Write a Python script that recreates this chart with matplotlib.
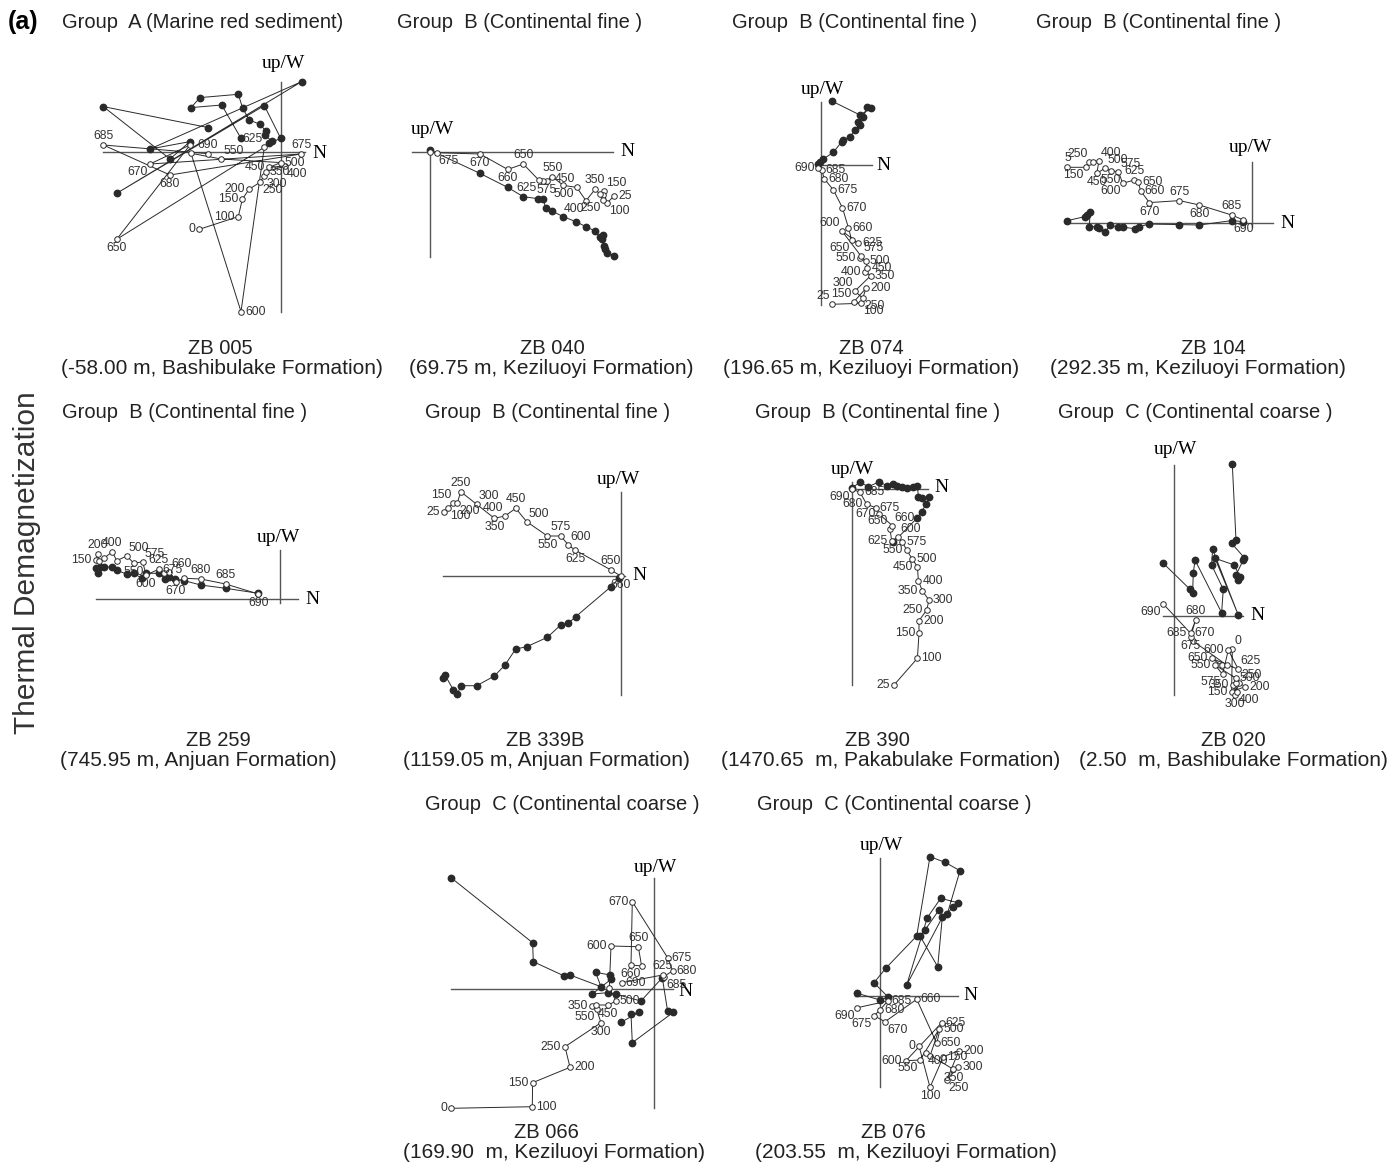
import numpy as np
import matplotlib
matplotlib.use('Agg')
import matplotlib.pyplot as plt

plt.rcParams['font.family'] = ['Liberation Sans', 'DejaVu Sans']

# ---- demagnetization steps, vertical projection (open) and horizontal projection (closed)
# components are (N, up/W) in plot units, origin = axis crossing

zb005_steps = ['0', '100', '150', '200', '250', '300', '350', '400', '450', '500', '550', '',
               '600', '625', '650', '', '670', '675', '680', '685', '690']
zb005_vert = [(-81.7, -77), (-42.7, -64.3), (-38.7, -47), (-32, -37), (-21, -30), (-16.7, -23.3),
              (-15.3, -19.3), (4, -14), (-11.7, -15), (-0.3, -10.3), (-59.7, -6.7), (-90, -1),
              (-40, -159.3), (-16.7, 5), (-164.3, -87), (-91, 7.3), (-131, -11.7), (20, -1.7),
              (-111, -22.7), (-177.7, 7.3), (-73.3, -1.3)]
zb005_horz = [(-40, 14), (-59.3, 47.3), (-90, 44.7), (-81, 54.7), (-42.7, 58), (-38.3, 44),
              (-31.7, 32.3), (-21, 28), (-15.3, 21.3), (-16, 17.3), (-9.3, 11.3), (-11.7, 9),
              (-0.3, 14), (-16.7, 46.7), (-164.3, -41), (20.7, 70.7), (-131, 3.3), (-91, 10.7),
              (-111, -6.7), (-177.7, 45.7), (-72.7, 24.7)]
zb005_side = 'l l l l br br r br l r ar - r al b - bl a b a a'.split()

zb040_steps = ['25', '100', '150', '200', '250', '300', '350', '400', '450', '500', '550', '575',
               '600', '625', '650', '660', '670', '675', '690']
zb040_vert = [(184.3, -44), (176.7, -51.7), (174, -39), (172.7, -43.3), (173.3, -48.3), (170, -42.3),
              (165, -37.7), (156, -49), (146.7, -35.7), (133.3, -33.7), (122.3, -25), (116.7, -29),
              (113.3, -29), (108.7, -28.3), (93.3, -12.3), (77.7, -17.7), (50, -2.3), (6.7, -1), (0, 0)]
zb040_horz = [(0, 1.7), (50, -21.7), (77.7, -35.7), (93.3, -45), (108.3, -47), (113.3, -47.3),
              (115.7, -56.7), (121.7, -59.3), (133.3, -65), (146, -70), (156, -75), (165, -79.3),
              (170, -85.7), (173.3, -83.3), (172.3, -87.7), (174, -94.3), (175, -97.7), (176.7, -101),
              (184.3, -104.3)]
zb040_side = 'r br ar - bl - a bl al b a b - bl a b b br -'.split()

zb074_steps = ['25', '100', '150', '200', '250', '300', '350', '400', '450', '500', '550', '575',
               '600', '625', '650', '660', '670', '675', '680', '685', '690']
zb074_vert = [(11, -139.3), (40, -138.3), (33.3, -136.7), (45.3, -123.3), (42, -133.3), (34.3, -126),
              (50, -110.7), (44.3, -106.7), (46.7, -103.3), (45.3, -95.7), (39.3, -93.3), (40.3, -91),
              (21, -65.7), (37.7, -78.3), (31, -75), (27.7, -62.7), (21.7, -42.7), (12.7, -25),
              (3.7, -14), (1, -5), (-2.3, -3.3)]
zb074_horz = [(11, 64), (39.3, 50), (50, 56.7), (46.7, 58.3), (42.7, 48.3), (37.7, 43.3), (39.3, 40),
              (34.3, 35), (29.3, 28.3), (22.7, 25), (21, 23.3), (12.7, 12.7), (2.7, 6), (-0.7, 2.7),
              (-2.3, 0.7)]
zb074_side = 'al br al r br al r l r r l ar al r bl r r r r r l'.split()

zb104_steps = ['5', '150', '250', '', '400', '450', '500', '550', '575', '600', '625', '650', '660',
               '670', '675', '680', '685', '690']
zb104_vert = [(-184.3, 56), (-165.7, 56), (-162.3, 61), (-158.3, 61.7), (-152.7, 62.3), (-155, 50),
              (-146.7, 55), (-140.7, 52.3), (-133.3, 51.7), (-129, 40), (-117.3, 43.3), (-113.3, 41),
              (-111, 32.3), (-102.3, 20.7), (-72.3, 22.7), (-52.3, 18.3), (-20, 8.3), (-8.3, 3.3)]
zb104_horz = [(-184.3, 2.7), (-166.7, 6.7), (-165, 8.3), (-161.7, 11.7), (-162.3, -3.3), (-155, -3.3),
              (-152.3, -5), (-146.7, -9), (-141.7, -1.7), (-133.3, -4), (-129, -4), (-116.7, -5.3),
              (-112.3, -3.3), (-102.3, -0.7), (-72.3, -1.3), (-52.3, -1.7), (-20, 2.7), (-8.3, 1.7)]
zb104_side = 'a bl al - ar b ar b ar bl a r r b a b a b'.split()

zb259_steps = ['150', '200', '', '', '400', '', '500', '550', '575', '600', '625', '', '660', '670',
               '675', '680', '685', '690']
zb259_vert = [(-184, 39), (-182.3, 44.7), (-180.7, 38.3), (-176, 40.7), (-167.7, 47.3), (-163.3, 38.3),
              (-153.3, 43), (-146, 35.7), (-137.3, 37.3), (-134, 24), (-121.3, 29.7), (-116, 26.3),
              (-111, 27.3), (-104, 17.3), (-95.7, 20.7), (-79.3, 20), (-54.3, 15), (-21.7, 5)]
zb259_horz = [(-184, 30.7), (-182.3, 25.7), (-180, 32.3), (-175.7, 31.7), (-168.3, 32.3), (-163.3, 29),
              (-153.3, 24.7), (-146, 25.7), (-138.3, 20.7), (-134, 25.7), (-121.3, 25.7), (-115, 20),
              (-111, 21.7), (-105, 19.7), (-95.7, 18.3), (-79.3, 14), (-54.3, 10.7), (-21.7, 5.7)]
zb259_side = 'l a - - a - ar b ar b a - ar b al a a b'.split()

zb339b_steps = ['25', '100', '150', '200', '250', '300', '350', '400', '450', '500', '550', '575',
                '600', '625', '650', '660']
zb339b_vert = [(-176.3, 63.7), (-172.3, 67.7), (-167.3, 73.3), (-163.3, 73.3), (-160, 84.3),
               (-144, 71.7), (-126.3, 57.7), (-115.7, 60), (-105, 67.7), (-94, 54.3), (-73.3, 40),
               (-60, 40), (-52.3, 31), (-45.7, 26), (-9.7, 6), (0, 0)]
zb339b_horz = [(-1.7, -2.3), (-9.7, -10.7), (-45, -40.7), (-52.3, -47.3), (-60, -49), (-73.3, -61.3),
               (-94, -70.7), (-105, -73), (-115.7, -89), (-126.3, -100), (-144, -109.7), (-160, -109.7),
               (-163.3, -118.3), (-167.3, -114), (-175.7, -99), (-177.3, -102.3)]
zb339b_side = 'l br al br a ar b al a ar b a ar b a b'.split()

zb390_steps = ['25', '100', '150', '200', '250', '300', '350', '400', '450', '500', '550', '575',
               '600', '625', '650', '660', '670', '675', '680', '685', '690']
zb390_vert = [(42.3, -196), (65.7, -169.3), (67.3, -144.3), (67.3, -131.7), (75, -121), (77.3, -111),
              (70.7, -102), (66.7, -91.7), (65.7, -77.7), (60.7, -70.3), (55, -61), (50.7, -53.3),
              (46.7, -47.7), (40, -52), (38.3, -40), (40.7, -36.7), (27.7, -25.3), (24, -18.7),
              (15, -15.3), (8.3, -3.3), (0, 0)]
zb390_horz = [(0, 1), (8.3, 6.7), (16.7, 2.3), (27.7, 7.3), (35, 3.3), (41, 4.7), (45.7, 3.3), (50, 1.7),
              (55.7, 0.7), (61, 1.7), (65.7, 3), (66.7, -7.7), (70.7, -9.3), (77.7, -7.7), (74.3, -15.3),
              (70, -22.7), (65.7, -28.7), (41.7, -53.3)]
zb390_side = 'l r l r l r l r l r l r ar l al ar l r l r bl'.split()

zb020_steps = ['0', '150', '200', '250', '300', '350', '400', '450', '500', '550', '575', '600', '625',
               '650', '', '', '670', '675', '680', '685', '690']
zb020_vert = [(58, -33), (57.3, -75.7), (70.7, -70.7), (65, -66.7), (60.7, -79), (59, -69), (62.3, -75.7),
              (61.5, -67), (61.7, -62.3), (40.7, -49), (48.3, -58.3), (54, -34), (64, -53.3),
              (37.3, -42.3), (47.3, -49.3), (52.3, -49), (18.3, -24.7), (16.3, -21), (21.3, -4),
              (16.3, -17.3), (-11, 12)]
zb020_horz = [(-11, 52.7), (15.7, 26.7), (18.3, 23.3), (19, 42.7), (20.7, 56), (47.3, 3.3), (49, 26.7),
              (37.3, 51), (38.3, 66.7), (64, 1), (40.7, 57.7), (60, 51), (65.7, 38.7), (64, 36),
              (61.7, 41), (69, 56), (70, 58.3), (57.3, 72.7), (61.7, 76), (58, 151.7)]
zb020_side = 'ar l r ar b l br - r l bl l ar l - - ar b a l bl'.split()

zb066_steps = ['0', '100', '150', '200', '250', '300', '550', '350', '400', '450', '500', '', '600',
               '650', '', '660', '670', '675', '680', '685', '625', '690']
zb066_vert = [(-203.3, -119.3), (-122, -117.7), (-121.7, -93.7), (-84.3, -78.3), (-89.3, -57.7),
              (-53.3, -33.7), (-57.7, -20.3), (-62, -16.7), (-58.7, -16), (-46, -16), (-38.3, -12),
              (-45, 1.3), (-43.3, 43), (-16, 42.3), (-12.7, 23), (-23.3, 24), (-22, 87.3), (13.3, 31.3),
              (18.3, 18.3), (10, 12.5), (8.3, 14), (-32.7, 6.3)]
zb066_horz = [(-203.3, 111.3), (-121.7, 46.3), (-121, 27.3), (-90, 13), (-84.3, 14), (-53.3, 2.3),
              (-58.7, 16.7), (-44.3, 14), (-43.3, 9.7), (-62, -5), (-46.7, -3.7), (-38.3, -5.3),
              (-13.3, -12), (8, 11.3), (13.3, -22), (19, -23.3), (-22, -53.7), (-23.3, -25.3),
              (-15.3, -23.3), (-33.3, -33.3)]
zb066_side = 'l r l r l b bl l - b r - l a - b l r r br a r'.split()

zb076_steps = ['0', '100', '150', '200', '250', '300', '350', '400', '450', '500', '550', '600', '625',
               '650', '660', '670', '675', '680', '685', '690']
zb076_vert = [(39, -50), (50, -91.3), (63.3, -60.7), (79, -54.7), (66.7, -84), (78.3, -71.3),
              (73.3, -73.3), (46, -56.7), (50, -60), (59, -33.3), (40, -64), (26, -64.7), (61.7, -26.7),
              (56.7, -47.3), (36.7, -3.3), (5, -25.7), (-6, -19.7), (0, -14), (7.7, -5), (-22.7, -11.7)]
zb076_horz = [(-22.7, 2.7), (0, -4), (8.3, -1.3), (-6, 13.3), (5.7, 27.7), (36.7, 60), (50, 139.3),
              (65, 133.7), (80, 125.3), (67.3, 82), (72.7, 89.3), (77.7, 93.3), (60.7, 97.7),
              (47.3, 78.3), (26.7, 11), (62.3, 78.7), (57.7, 29.3), (40, 60), (45, 66), (59, 86)]
zb076_side = 'l b r r br r b br - r bl l r r r br bl r r bl'.split()

# ---- titles
groups = ['Group  A (Marine red sediment)'] + ['Group  B (Continental fine )'] * 6 + \
         ['Group  C (Continental coarse )'] * 3
samples = ['ZB 005', 'ZB 040', 'ZB 074', 'ZB 104', 'ZB 259', 'ZB 339B', 'ZB 390', 'ZB 020',
           'ZB 066', 'ZB 076']
positions = ['(-58.00 m, Bashibulake Formation)', '(69.75 m, Keziluoyi Formation)',
             '(196.65 m, Keziluoyi Formation)', '(292.35 m, Keziluoyi Formation)',
             '(745.95 m, Anjuan Formation)', '(1159.05 m, Anjuan Formation)',
             '(1470.65  m, Pakabulake Formation)', '(2.50  m, Bashibulake Formation)',
             '(169.90  m, Keziluoyi Formation)', '(203.55  m, Keziluoyi Formation)']

panels = [
    (zb005_steps, zb005_vert, zb005_horz, zb005_side),
    (zb040_steps, zb040_vert, zb040_horz, zb040_side),
    (zb074_steps, zb074_vert, zb074_horz, zb074_side),
    (zb104_steps, zb104_vert, zb104_horz, zb104_side),
    (zb259_steps, zb259_vert, zb259_horz, zb259_side),
    (zb339b_steps, zb339b_vert, zb339b_horz, zb339b_side),
    (zb390_steps, zb390_vert, zb390_horz, zb390_side),
    (zb020_steps, zb020_vert, zb020_horz, zb020_side),
    (zb066_steps, zb066_vert, zb066_horz, zb066_side),
    (zb076_steps, zb076_vert, zb076_horz, zb076_side),
]

# layout in figure pixels: origin, N-axis span, up/W-axis span, up/W label, N label
layout = [
    ((281, 152.3), (103, 305), (81.7, 311.7), (283, 64), (312, 153)),
    ((430, 151.7), (411.7, 613), (150, 256.7), (432, 130), (620, 152)),
    ((820.7, 165), (817, 871.7), (101.7, 305), (822, 90), (876, 165)),
    ((1251.7, 223.3), (1065, 1273), (161.7, 226.7), (1250, 148), (1280, 223)),
    ((280, 599), (96, 298), (550, 603), (278, 538), (305, 599)),
    ((620.7, 576), (443.3, 625), (491.7, 695), (618, 480), (632, 575)),
    ((851.7, 489), (850, 928), (481.7, 685), (852, 470), (934, 487)),
    ((1174.3, 616), (1163, 1243), (465, 695), (1175, 450), (1250, 615)),
    ((654.3, 989), (450.7, 673.3), (878.3, 1108.3), (655, 868), (678, 991)),
    ((880, 996), (855, 958.3), (858.3, 1086.7), (881, 845), (963, 995)),
]
group_xy = [(62, 22), (397, 22), (732, 22), (1036, 22), (62, 413), (425, 413), (755, 413),
            (1058, 413), (425, 805), (757, 805)]
sample_xy = [(220, 349), (552, 349), (871, 349), (1213, 349), (218, 740), (545, 740), (877, 740),
             (1233, 740), (546, 1132), (893, 1132)]
pos_xy = [(222, 369), (551, 369), (871, 369), (1198, 369), (198, 760), (546, 760), (891, 760),
          (1233, 760), (554, 1152), (906, 1152)]

# label offsets: (dx, dy, ha, va) in pixels, y downward
OFF = {'r': (4, 0, 'left', 'center'), 'l': (-4, 0, 'right', 'center'),
       'a': (0, -3, 'center', 'bottom'), 'b': (0, 3, 'center', 'top'),
       'ar': (2, -2, 'left', 'bottom'), 'al': (-2, -2, 'right', 'bottom'),
       'br': (2, 2, 'left', 'top'), 'bl': (-2, 2, 'right', 'top')}

fig = plt.figure(figsize=(13.97, 11.63), dpi=100)
ax = fig.add_axes([0, 0, 1, 1])
ax.set_xlim(0, 1397)
ax.set_ylim(1163, 0)
ax.axis('off')

ink = '#2a2a2a'
for (steps, vert, horz, side), (org, hspan, vspan, upw, nxy) in zip(panels, layout):
    ox, oy = org
    ax.plot(hspan, [oy, oy], color='#555555', lw=1.0, zorder=1)
    ax.plot([ox, ox], vspan, color='#555555', lw=1.0, zorder=1)
    ax.text(upw[0], upw[1], 'up/W', family='Liberation Serif', fontsize=14,
            ha='center', va='center')
    ax.text(nxy[0], nxy[1], 'N', family='Liberation Serif', fontsize=14, ha='left', va='center')

    h = np.array(horz)
    ax.plot(ox + h[:, 0], oy - h[:, 1], color=ink, lw=0.7, zorder=2)
    ax.plot(ox + h[:, 0], oy - h[:, 1], 'o', ms=4.6, mfc=ink, mec=ink, zorder=3)

    v = np.array(vert)
    ax.plot(ox + v[:, 0], oy - v[:, 1], color=ink, lw=0.7, zorder=2)
    ax.plot(ox + v[:, 0], oy - v[:, 1], 'o', ms=4.0, mfc='white', mec=ink, mew=0.7, zorder=4)

    for t, (vx, vy), s in zip(steps, vert, side):
        if not t or s == '-':
            continue
        dx, dy, ha, va = OFF[s]
        ax.text(ox + vx + dx, oy - vy + dy, t, fontsize=8.8, color='#333333',
                ha=ha, va=va, zorder=5)

for g, (x, y) in zip(groups, group_xy):
    ax.text(x, y, g, fontsize=14.5, ha='left', va='center', color='#222222')
for s, (x, y) in zip(samples, sample_xy):
    ax.text(x, y, s, fontsize=14.5, ha='center', va='center', color='#222222')
for p, (x, y) in zip(positions, pos_xy):
    ax.text(x, y, p, fontsize=15, ha='center', va='center', color='#222222')

ax.text(8, 22, '(a)', fontsize=18, fontweight='bold', ha='left', va='center')
ax.text(27, 563, 'Thermal Demagnetization', fontsize=21.5, rotation=90,
        ha='center', va='center', color='#333333')

fig.savefig('out.png', dpi=100)
